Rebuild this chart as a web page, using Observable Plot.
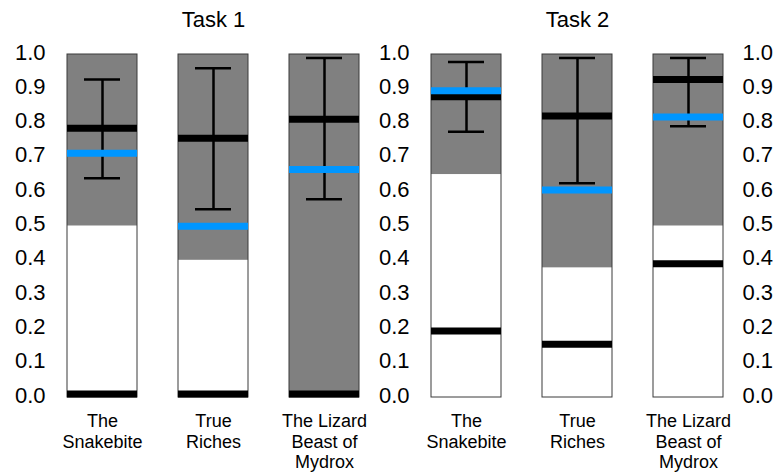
<!DOCTYPE html>
<html>
<head>
<meta charset="utf-8">
<script src="https://cdn.jsdelivr.net/npm/d3@7"></script>
<script src="https://cdn.jsdelivr.net/npm/@observablehq/plot@0.6"></script>
<style>
  html, body { margin: 0; padding: 0; background: #fff; }
  #chart { width: 777px; height: 472px; }
</style>
</head>
<body>
<div id="chart"></div>
<script>
// ---- data ----
const tasks = ["Task 1", "Task 2"];
const stories = ["The Snakebite", "True Riches", "The Lizard Beast of Mydrox"];
const storyLabels = ["The\nSnakebite", "True\nRiches", "The Lizard\nBeast of\nMydrox"];
const yTicks = [0, 0.1, 0.2, 0.3, 0.4, 0.5, 0.6, 0.7, 0.8, 0.9, 1.0];

// rows = task, columns = story
const whiteShare = [[0.50, 0.40, 0.00], [0.65, 0.378, 0.50]];
const blackMain  = [[0.785, 0.756, 0.811], [0.877, 0.821, 0.927]];
const blackLow   = [[0.01, 0.01, 0.01], [0.194, 0.155, 0.39]];
const blueMean   = [[0.712, 0.499, 0.665], [0.894, 0.605, 0.818]];
const ciLow      = [[0.639, 0.549, 0.578], [0.775, 0.625, 0.791]];
const ciHigh     = [[0.927, 0.96, 0.99], [0.978, 0.99, 0.99]];

const rows = [];
tasks.forEach((task, i) => stories.forEach((story, j) => rows.push({
  task, story,
  white: whiteShare[i][j],
  blackMain: blackMain[i][j],
  blackLow: blackLow[i][j],
  blue: blueMean[i][j],
  lo: ciLow[i][j],
  hi: ciHigh[i][j]
})));

const labelOf = new Map(stories.map((s, i) => [s, storyLabels[i]]));
const fmt = d3.format(".1f");
const axisStyle = {tickSize: 0, ticks: yTicks, tickFormat: fmt, fontSize: 22, dy: -2};

const chart = Plot.plot({
  width: 777,
  height: 472,
  marginTop: 54,
  marginBottom: 75,
  marginLeft: 50,
  marginRight: 37,
  style: {fontFamily: "'Liberation Sans', Arial, sans-serif", color: "#000", background: "#fff"},
  fx: {domain: tasks, paddingInner: 0.1044, paddingOuter: 0, label: null},
  x: {domain: stories, paddingInner: 0.3722, paddingOuter: 0.148, label: null},
  y: {domain: [0, 1], label: null},
  marks: [
    Plot.barY(rows, {fx: "task", x: "story", y1: 0, y2: 1, fill: "#808080"}),
    Plot.barY(rows, {fx: "task", x: "story", y1: 0, y2: "white", fill: "#ffffff"}),
    Plot.barY(rows, {fx: "task", x: "story", y1: 0, y2: 1, fill: "none", stroke: "#3a3a3a", strokeWidth: 1}),
    Plot.ruleX(rows, {fx: "task", x: "story", y1: "lo", y2: "hi", stroke: "#000", strokeWidth: 2.5}),
    Plot.tickY(rows, {fx: "task", x: "story", y: "lo", stroke: "#000", strokeWidth: 2.5, insetLeft: 17, insetRight: 17}),
    Plot.tickY(rows, {fx: "task", x: "story", y: "hi", stroke: "#000", strokeWidth: 2.5, insetLeft: 17, insetRight: 17}),
    Plot.tickY(rows, {fx: "task", x: "story", y: "blackLow", stroke: "#000", strokeWidth: 7}),
    Plot.tickY(rows, {fx: "task", x: "story", y: "blackMain", stroke: "#000", strokeWidth: 7}),
    Plot.tickY(rows, {fx: "task", x: "story", y: "blue", stroke: "#0096ff", strokeWidth: 7}),
    Plot.axisY({anchor: "left", facetAnchor: "left", tickPadding: 5, ...axisStyle}),
    Plot.axisY({anchor: "left", facetAnchor: "right", tickPadding: 5, ...axisStyle}),
    Plot.axisY({anchor: "right", facetAnchor: "right", tickPadding: 2, ...axisStyle}),
    Plot.axisX({anchor: "bottom", tickSize: 0, tickPadding: 15, fontSize: 18, lineHeight: 1.14,
                tickFormat: (d) => labelOf.get(d)}),
    Plot.axisFx({anchor: "top", tickSize: 0, tickPadding: 28, fontSize: 22})
  ]
});
document.getElementById("chart").append(chart);
</script>
</body>
</html>
